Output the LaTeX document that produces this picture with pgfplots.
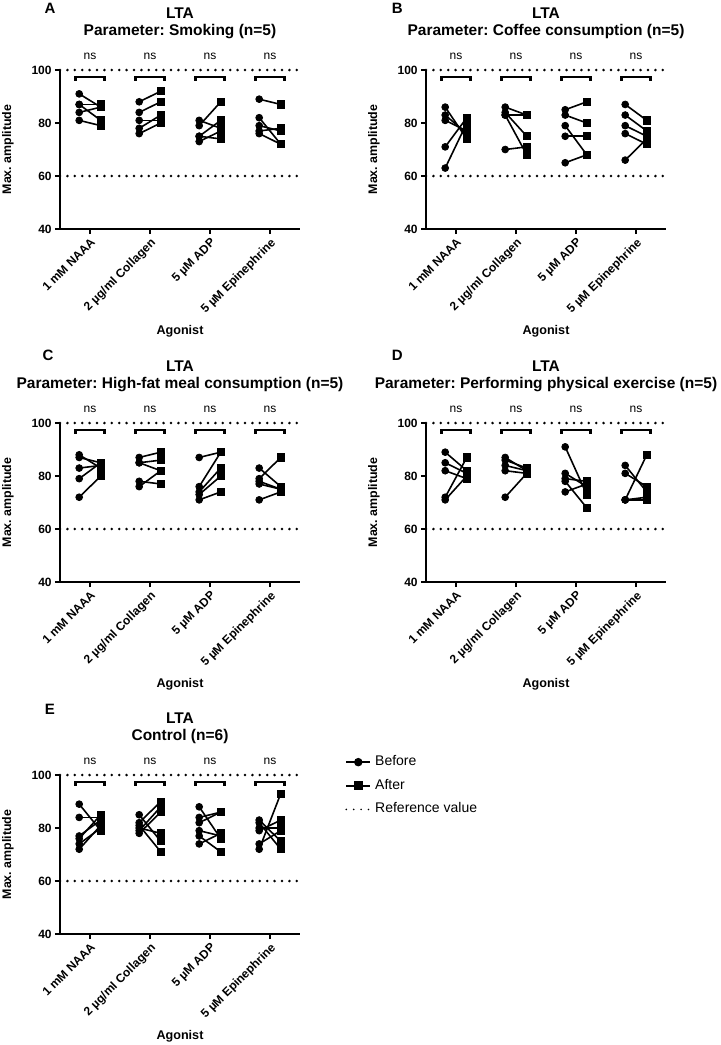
\documentclass[border=0pt]{standalone}
\usepackage{fontspec}
\setmainfont{Liberation Sans}
\usepackage{pgfplots}
\pgfplotsset{compat=1.18}
\usepackage{pgfplotstable}
\frenchspacing

% Smoking
\pgfplotstableread{
c b a
0 91 86
0 87 81
0 87 87
0 84 86
0 81 79
1 88 92
1 84 88
1 81 81
1 78 83
1 76 80
2 79 88
2 81 78
2 75 81
2 75 74
2 73 77
3 89 87
3 82 72
3 79 77
3 77 78
3 76 72
}\tabA
% Coffee
\pgfplotstableread{
c b a
0 86 74
0 83 76
0 81 77
0 71 82
0 63 80
1 86 83
1 84 75
1 83 68
1 83 83
1 70 71
2 85 88
2 83 80
2 79 68
2 75 75
2 65 68
3 87 81
3 83 77
3 79 75
3 76 72
3 66 74
}\tabB
% High-fat meal
\pgfplotstableread{
c b a
0 88 83
0 87 85
0 83 84
0 79 85
0 72 80
1 87 89
1 85 86
1 85 82
1 78 77
1 76 82
2 87 89
2 76 89
2 74 83
2 73 80
2 71 74
3 83 76
3 79 87
3 78 75
3 77 75
3 71 74
}\tabC
% Physical exercise
\pgfplotstableread{
c b a
0 89 82
0 85 81
0 82 79
0 72 87
0 71 80
1 87 82
1 86 83
1 84 82
1 82 81
1 72 81
2 91 73
2 81 76
2 79 78
2 78 68
2 74 77
3 84 74
3 81 76
3 71 88
3 71 71
3 71 72
}\tabD
% Control
\pgfplotstableread{
c b a
0 89 79
0 84 84
0 77 83
0 76 85
0 74 80
0 72 81
1 85 75
1 82 90
1 81 71
1 80 78
1 79 88
1 78 86
2 88 76
2 84 86
2 82 86
2 79 77
2 77 71
2 74 78
3 83 75
3 82 72
3 80 80
3 79 83
3 74 79
3 72 93
}\tabE

\tikzset{letter/.style={font=\bfseries\fontsize{7.5}{8}\selectfont}}

\pgfplotsset{
  lta/.style={
    scale only axis, width=120pt, height=79.5pt,
    anchor=north west,
    xmin=-0.5, xmax=3.5, ymin=40, ymax=100,
    axis x line*=bottom, axis y line*=left,
    axis line style={-, line width=1pt, black},
    xtick={0,1,2,3},
    xticklabels={1 mM NAAA, 2 µg/ml Collagen, 5 µM ADP, 5 µM Epinephrine},
    ytick={40,60,80,100},
    tick align=outside, major tick length=2.5pt,
    every tick/.style={line width=1pt, black},
    xticklabel style={rotate=45, anchor=north east, font=\bfseries\fontsize{6}{7}\selectfont, inner sep=1pt},
    yticklabel style={font=\bfseries\fontsize{6}{7}\selectfont, inner sep=1.5pt},
    /pgf/number format/assume math mode=true,
    clip=false,
    ylabel={Max. amplitude},
    ylabel style={font=\bfseries\fontsize{6.2}{7}\selectfont, at={(axis description cs:-0.217,0.5)}, anchor=center},
    xlabel={Agonist},
    xlabel style={font=\bfseries\fontsize{6.3}{7}\selectfont, at={(axis description cs:0.5,-0.645)}, anchor=center},
    title style={at={(0.5,1)}, anchor=center, yshift=17.5pt, align=center, font=\bfseries\fontsize{7.75}{8.5}\selectfont},
  },
  bef/.style={only marks, mark=*, mark size=1.7pt, black, forget plot},
  aft/.style={only marks, mark=square*, mark size=1.8pt, black, forget plot},
  pair/.style={black, line width=0.8pt, no marks, forget plot, quiver={u=0.36, v=\thisrow{a}-\thisrow{b}}},
  refl/.style={black, line width=1.4pt, line cap=round, dash pattern=on 0pt off 3.7pt, no marks},
}

\newcommand\decor{%
  \addplot[refl, forget plot] coordinates {(-0.5,100) (3.5,100)};
  \addplot[refl, forget plot] coordinates {(-0.5,60) (3.5,60)};
  \pgfplotsinvokeforeach{0,1,2,3}{%
    \draw[line width=1.2pt] ([xshift=-7.2pt]axis cs:##1,95.9) |- ([xshift=7.2pt]axis cs:##1,97.3) -- ([xshift=7.2pt]axis cs:##1,95.9);
    \node[font=\fontsize{6}{7}\selectfont] at (axis cs:##1,105) {ns};
  }%
}
\newcommand\series[1]{%
  \addplot[pair] table[x expr=\thisrow{c}-0.18, y=b]{#1};
  \addplot[bef] table[x expr=\thisrow{c}-0.18, y=b]{#1};
  \addplot[aft] table[x expr=\thisrow{c}+0.18, y=a]{#1};
}

\begin{document}
\begin{tikzpicture}
% A
\begin{axis}[lta, at={(30pt,-35pt)}, title={LTA\\Parameter: Smoking (n=5)}]
  \decor
  \series{\tabA}
  \node[letter] at (rel axis cs:-0.042,1.39) {A};
\end{axis}
% B
\begin{axis}[lta, at={(213pt,-35pt)}, title={LTA\\Parameter: Coffee consumption (n=5)}]
  \decor
  \series{\tabB}
  \node[letter] at (rel axis cs:-0.12,1.39) {B};
\end{axis}
% C
\begin{axis}[lta, at={(30pt,-211.5pt)}, title={LTA\\Parameter: High-fat meal consumption (n=5)}]
  \decor
  \series{\tabC}
  \node[letter] at (rel axis cs:-0.05,1.428) {C};
\end{axis}
% D
\begin{axis}[lta, at={(213pt,-211.5pt)}, title={LTA\\Parameter: Performing physical exercise (n=5)}]
  \decor
  \series{\tabD}
  \node[letter] at (rel axis cs:-0.12,1.428) {D};
\end{axis}
% E
\begin{axis}[lta, at={(30pt,-387.5pt)}, title={LTA\\Control (n=6)},
  legend style={at={(1.1625,1.175)}, anchor=north west, draw=none, fill=none,
    font=\fontsize{7}{8}\selectfont, row sep=1.25pt,
    /tikz/every even column/.append style={column sep=2.5pt}},
  legend cell align=left,
  legend image code/.code={\draw[mark repeat=2, mark phase=2] plot coordinates {(0pt,0pt) (6pt,0pt) (12pt,0pt)};}]
  \addlegendimage{black, line width=0.8pt, mark=*, mark size=1.7pt}
  \addlegendentry{Before}
  \addlegendimage{black, line width=0.8pt, mark=square*, mark size=1.8pt}
  \addlegendentry{After}
  \addlegendimage{black, line width=0.9pt, line cap=round, dash pattern=on 0pt off 3.7pt}
  \addlegendentry{Reference value}
  \decor
  \series{\tabE}
  \node[letter] at (rel axis cs:-0.042,1.41) {E};
\end{axis}
\pgfresetboundingbox
\path (0,0) rectangle (360pt,-522.5pt);
\end{tikzpicture}
\end{document}
